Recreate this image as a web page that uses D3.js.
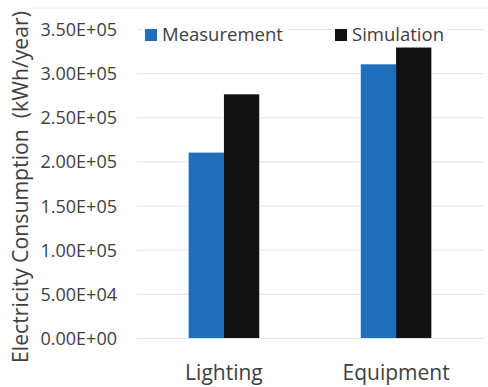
<!DOCTYPE html>
<html><head><meta charset="utf-8">
<script src="https://cdn.jsdelivr.net/npm/d3@7"></script>
<style>body{margin:0;background:#fff}text{font-family:"Open Sans","Noto Sans",sans-serif;fill:#404040}</style>
</head><body><svg id="c" width="488" height="387"></svg>
<script>
const categories = ["Lighting", "Equipment"];
const seriesNames = ["Measurement", "Simulation"];
const measurement = [210000, 310000];
const simulation = [276000, 329000];
const yTicks = [0, 50000, 100000, 150000, 200000, 250000, 300000, 350000];
const colors = ["#1f6fba", "#111111"];

const svg = d3.select("#c");
const m = {left: 137, right: 483, top: 29, bottom: 338};
const x = d3.scaleBand().domain(categories).range([m.left, m.right]).paddingInner(0.59).paddingOuter(0.3);
const xs = d3.scaleBand().domain(seriesNames).range([0, x.bandwidth()]);
const y = d3.scaleLinear().domain([0, 350000]).range([m.bottom, m.top]);

svg.append("line").attr("x1", 30).attr("x2", 488).attr("y1", 8).attr("y2", 8).attr("stroke", "#eeeeee");

const yAxis = d3.axisLeft(y).tickValues(yTicks).tickSize(-(m.right - m.left)).tickFormat(d =>
  d.toExponential(2).toUpperCase().replace(/E([+-])(\d)$/, "E$10$2"));
const ga = svg.append("g").attr("transform", `translate(${m.left},0)`).call(yAxis);
ga.select(".domain").remove();
ga.selectAll(".tick line").attr("stroke", "#e4e4e4");
ga.selectAll(".tick text").attr("x", -20).attr("font-size", "18px").attr("dy", "0.36em");

const data = categories.map((c, i) => ({c, vals: [measurement[i], simulation[i]]}));
const g = svg.append("g");
data.forEach(d => {
  d.vals.forEach((v, j) => {
    g.append("rect").attr("x", x(d.c) + xs(seriesNames[j])).attr("width", xs.bandwidth())
      .attr("y", y(v)).attr("height", y(0) - y(v)).attr("fill", colors[j]);
  });
});

const xa = svg.append("g").attr("transform", `translate(0,${m.bottom})`).call(d3.axisBottom(x).tickSize(0));
xa.select(".domain").remove();
xa.selectAll("text").attr("font-size", "21px").attr("dy", "0").attr("y", 42);

// legend
const leg = [{n: seriesNames[0], x: 145, c: colors[0], w: 145}, {n: seriesNames[1], x: 335, c: colors[1], w: 115}];
leg.forEach(l => {
  svg.append("rect").attr("x", l.x - 3).attr("y", 20).attr("width", l.w).attr("height", 22).attr("fill", "#fff");
  svg.append("rect").attr("x", l.x).attr("y", 29).attr("width", 12).attr("height", 12).attr("fill", l.c);
  svg.append("text").attr("x", l.x + 17).attr("y", 41).attr("font-size", "18.5px").text(l.n);
});

svg.append("text").attr("transform", "translate(28,187) rotate(-90)").attr("text-anchor", "middle")
  .attr("font-size", "21px").attr("textLength", 352).attr("lengthAdjust", "spacingAndGlyphs")
  .attr("xml:space", "preserve").style("white-space", "pre")
  .text("Electricity Consumption  (kWh/year)");
</script></body></html>
